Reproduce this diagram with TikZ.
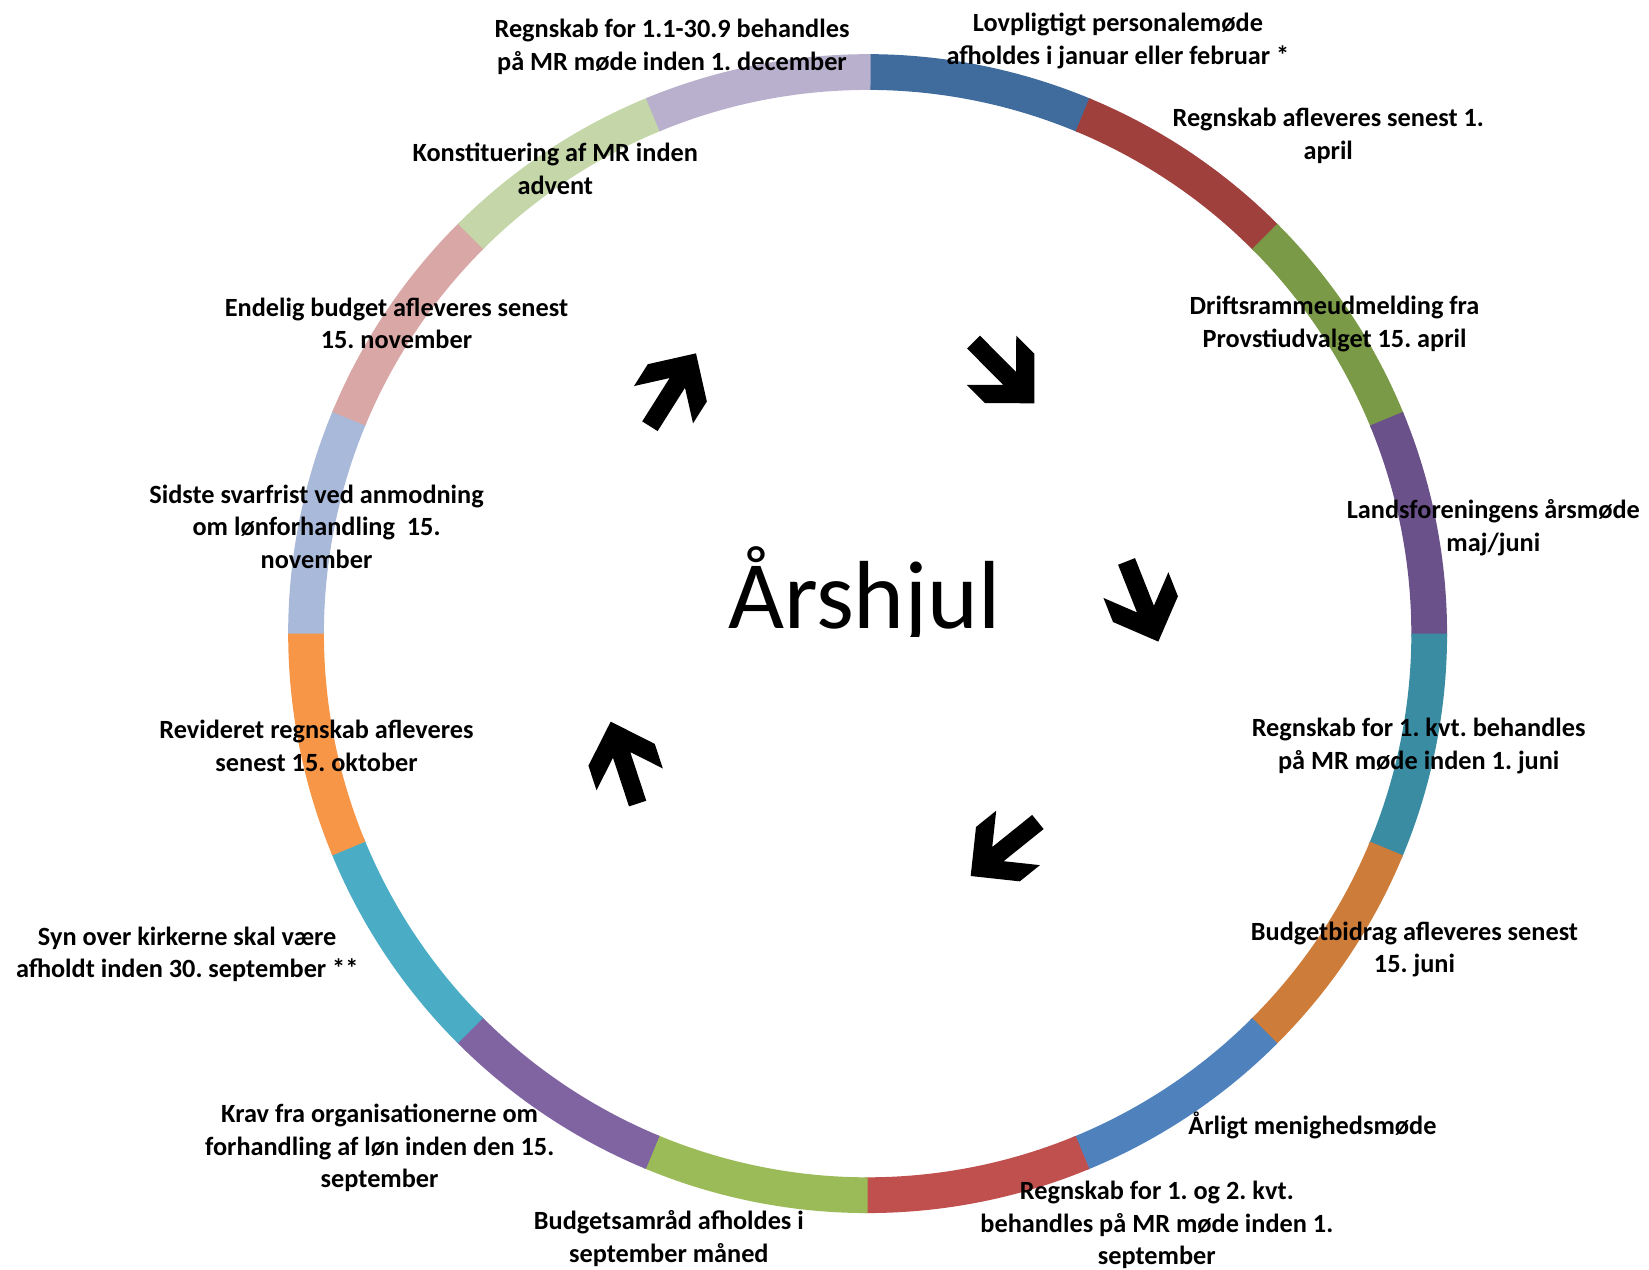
\documentclass[tikz,border=0pt]{standalone}
\usepackage{fontspec}
\setmainfont{Carlito}
\frenchspacing
\definecolor{s1}{HTML}{3F6B9D}
\definecolor{s2}{HTML}{9F403D}
\definecolor{s3}{HTML}{7B9A48}
\definecolor{s4}{HTML}{6B5189}
\definecolor{s5}{HTML}{3A8CA2}
\definecolor{s6}{HTML}{CE7C39}
\definecolor{s7}{HTML}{4F81BD}
\definecolor{s8}{HTML}{C0504D}
\definecolor{s9}{HTML}{9BBB59}
\definecolor{s10}{HTML}{8064A2}
\definecolor{s11}{HTML}{4BACC6}
\definecolor{s12}{HTML}{F79646}
\definecolor{s13}{HTML}{A9B9D9}
\definecolor{s14}{HTML}{D9A7A6}
\definecolor{s15}{HTML}{C5D6A8}
\definecolor{s16}{HTML}{B8B0CC}
\tikzset{
  lbl/.style={font=\bfseries\fontsize{25}{31}\selectfont, align=center, inner sep=0pt, text=black},
  titletext/.style={font=\fontsize{92}{110}\selectfont, anchor=base, inner sep=0pt, text=black},
  pics/bigarrow/.style={code={
    \fill[black] (0,0) -- (-33.2,33.2) -- (-57.8,33.2) -- (-33.25,8.65) -- (-82,8.65)
      -- (-82,-8.65) -- (-33.25,-8.65) -- (-57.8,-33.2) -- (-33.2,-33.2) -- cycle;
  }}
}
\begin{document}
\begin{tikzpicture}[x=1pt,y=1pt]
\useasboundingbox (0,0) rectangle (1568,1207);
\coordinate (C) at (825,604.5);
% ring segments
\foreach \c [count=\i from 0] in {s1,s2,s3,s4,s5,s6,s7,s8,s9,s10,s11,s12,s13,s14,s15,s16} {
  \pgfmathsetmacro\a{90-22.5*\i}
  \pgfmathsetmacro\b{\a-22.8}
  \fill[\c, shift={(C)}] (\a:551) arc[start angle=\a, end angle=\b, radius=551]
    -- (\b:517) arc[start angle=\b, end angle=\a, radius=517] -- cycle;
}
% title (its text box is cut just below the baseline, as in the original)
\begin{scope}
  \clip (660,601.5) rectangle (990,720);
  \node[titletext] (title) at (822,609.6) {Årshjul};
\end{scope}
% arrows
\coordinate (t1) at (983.5,823.5);
\coordinate (t2) at (1101.4,596.9);
\coordinate (t3) at (923,374);
\coordinate (t4) at (580.7,520.8);
\coordinate (t5) at (661.8,871);
\pic[rotate=-45.2] at (t1) {bigarrow};
\pic[rotate=-68.4] at (t2) {bigarrow};
\pic[rotate=-141.2] at (t3) {bigarrow};
\pic[rotate=108.2] at (t4) {bigarrow};
\pic[rotate=57.7] at (t5) {bigarrow};
% labels
\node[lbl] (l1) at (1063,1168) {Lovpligtigt personalemøde\\afholdes i januar eller februar *};
\node[lbl] (l2) at (1263,1078) {Regnskab afleveres senest 1.\\april};
\node[lbl] (l3) at (1269,899) {Driftsrammeudmelding fra\\Provstiudvalget 15. april};
\node[lbl] (l4) at (1420,705.5) {Landsforeningens årsmøde\\maj/juni};
\node[lbl] (l5) at (1349,497.5) {Regnskab for 1. kvt. behandles\\på MR møde inden 1. juni};
\node[lbl] (l6) at (1345,304) {Budgetbidrag afleveres senest\\15. juni};
\node[lbl] (l7) at (1248,137) {Årligt menighedsmøde};
\node[lbl] (l8) at (1100,42) {Regnskab for 1. og 2. kvt.\\behandles på MR møde inden 1.\\september};
\node[lbl] (l9) at (636,29.5) {Budgetsamråd afholdes i\\september måned};
\node[lbl] (l10) at (361,115.5) {Krav fra organisationerne om\\forhandling af løn inden den 15.\\september};
\node[lbl] (l11) at (178,299.5) {Syn over kirkerne skal være\\afholdt inden 30. september **};
\node[lbl] (l12) at (301,497.5) {Revideret regnskab afleveres\\senest 15. oktober};
\node[lbl] (l13) at (301,706) {Sidste svarfrist ved anmodning\\om lønforhandling\ \ 15.\\november};
\node[lbl] (l14) at (377,899.5) {Endelig budget afleveres senest\\15. november};
\node[lbl] (l15) at (528,1046.5) {Konstituering af MR inden\\advent};
\node[lbl] (l16) at (639,1162.5) {Regnskab for 1.1-30.9 behandles\\på MR møde inden 1. december};
\end{tikzpicture}
\end{document}
